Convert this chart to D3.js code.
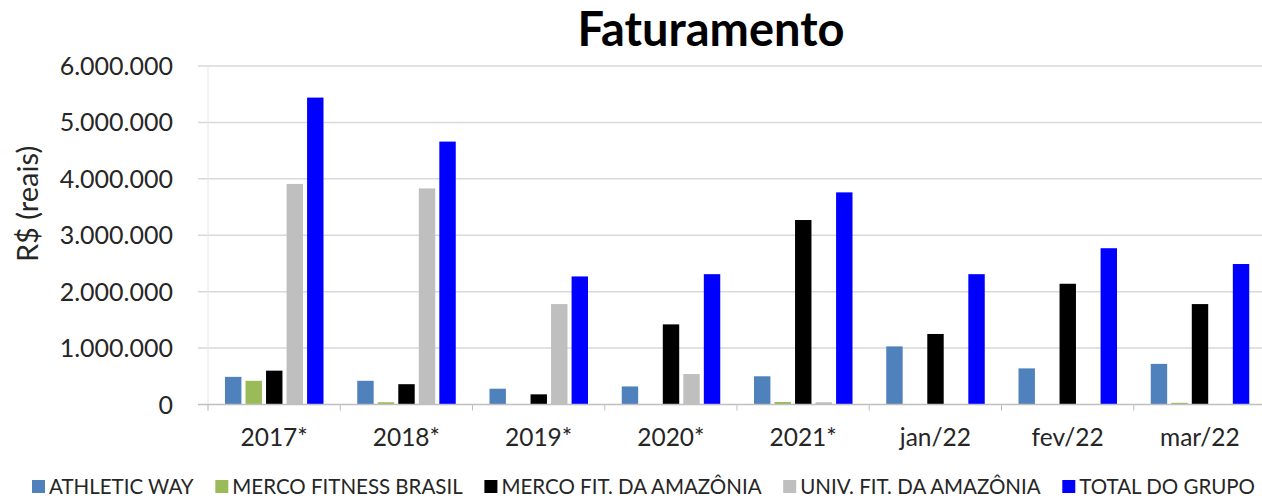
<!DOCTYPE html>
<html>
<head>
<meta charset="utf-8">
<script src="https://cdnjs.cloudflare.com/ajax/libs/d3/7.8.5/d3.min.js"></script>
<style>
	body { margin: 0; background: #fff; }
	svg { display: block; font-family: Lato, "Open Sans", sans-serif; }
</style>
</head>
<body>
<svg id="chart" width="1262" height="499"></svg>
<script>
// Chart data
var categories = ["2017*", "2018*", "2019*", "2020*", "2021*", "jan/22", "fev/22", "mar/22"];
var seriesNames = ["ATHLETIC WAY", "MERCO FITNESS BRASIL", "MERCO FIT. DA AMAZÔNIA", "UNIV. FIT. DA AMAZÔNIA", "TOTAL DO GRUPO"];
var athleticWay = [490000, 420000, 280000, 320000, 500000, 1030000, 640000, 720000];
var mercoFitnessBrasil = [420000, 40000, 0, 0, 45000, 0, 0, 30000];
var mercoFitAmazonia = [600000, 360000, 180000, 1420000, 3270000, 1250000, 2140000, 1780000];
var univFitAmazonia = [3910000, 3830000, 1780000, 540000, 40000, 0, 0, 0];
var totalGrupo = [5440000, 4660000, 2270000, 2310000, 3760000, 2310000, 2770000, 2490000];
var yTicks = [0, 1000000, 2000000, 3000000, 4000000, 5000000, 6000000];

var seriesValues = [athleticWay, mercoFitnessBrasil, mercoFitAmazonia, univFitAmazonia, totalGrupo];
var seriesColors = ["#4f81bd", "#9bbb59", "#000000", "#bfbfbf", "#0000ff"];

// Layout
var svg = d3.select("#chart");
var plot = {left: 208, right: 1266, top: 66, bottom: 404.5};

var ptBR = d3.formatLocale({decimal: ",", thousands: ".", grouping: [3], currency: ["R$", ""]});
var fmt = ptBR.format(",.0f");

// Scales
var x0 = d3.scaleBand()
		.domain(categories)
		.range([plot.left, plot.right]),
	x1 = d3.scaleBand()
		.domain(seriesNames)
		.range([17, 115.5])
		.paddingInner(0.2),
	y = d3.scaleLinear()
		.domain([0, 6000000])
		.range([plot.bottom, plot.top]),
	c = d3.scaleOrdinal()
		.domain(seriesNames)
		.range(seriesColors);

// Gridlines
svg.append("g")
	.selectAll("line")
	.data(yTicks.slice(1))
	.enter()
	.append("line")
	.attr("x1", plot.left - 10)
	.attr("x2", 1262)
	.attr("y1", d => y(d))
	.attr("y2", d => y(d))
	.style("stroke", "#d9d9d9")
	.style("stroke-width", 1.5);

// Faint y axis line
svg.append("line")
	.attr("x1", plot.left)
	.attr("x2", plot.left)
	.attr("y1", plot.top)
	.attr("y2", plot.bottom + 6)
	.style("stroke", "#e6e6e6")
	.style("stroke-width", 1);

// Y tick labels
svg.append("g")
	.selectAll("text")
	.data(yTicks)
	.enter()
	.append("text")
	.attr("x", 173)
	.attr("y", d => y(d))
	.attr("dy", "0.36em")
	.style("text-anchor", "end")
	.style("font-size", "25px")
	.style("fill", "#262626")
	.text(d => fmt(d));

// Y axis title
svg.append("text")
	.attr("transform", "translate(38,204) rotate(-90)")
	.style("text-anchor", "middle")
	.style("font-size", "29px")
	.style("fill", "#262626")
	.text("R$ (reais)");

// Bars
var groups = svg.append("g")
	.selectAll("g")
	.data(categories)
	.enter()
	.append("g")
	.attr("transform", d => "translate(" + x0(d) + ",0)");

groups.selectAll("rect")
	.data((d, i) => seriesNames.map((s, k) => ({name: s, value: seriesValues[k][i]})))
	.enter()
	.append("rect")
	.attr("x", d => x1(d.name))
	.attr("width", x1.bandwidth())
	.attr("y", d => y(d.value))
	.attr("height", d => plot.bottom - y(d.value))
	.style("fill", d => c(d.name));

// X axis baseline and ticks
svg.append("line")
	.attr("x1", plot.left - 10)
	.attr("x2", 1262)
	.attr("y1", plot.bottom)
	.attr("y2", plot.bottom)
	.style("stroke", "#bfbfbf")
	.style("stroke-width", 1.5);

svg.append("g")
	.selectAll("line")
	.data(categories)
	.enter()
	.append("line")
	.attr("x1", d => x0(d))
	.attr("x2", d => x0(d))
	.attr("y1", plot.bottom)
	.attr("y2", plot.bottom + 6)
	.style("stroke", "#bfbfbf")
	.style("stroke-width", 1);

// X tick labels
svg.append("g")
	.selectAll("text")
	.data(categories)
	.enter()
	.append("text")
	.attr("x", d => x0(d) + x0.bandwidth() / 2)
	.attr("y", 446)
	.style("text-anchor", "middle")
	.style("font-size", "24.5px")
	.style("fill", "#262626")
	.text(d => d);

// Title
svg.append("text")
	.attr("x", 711)
	.attr("y", 46)
	.style("text-anchor", "middle")
	.style("font-size", "47px")
	.style("font-weight", "bold")
	.style("fill", "#000")
	.text("Faturamento");

// Legend - laid out in a row from x=32 to x=1255
var legend = svg.append("g");
var items = legend.selectAll("g")
	.data(seriesNames)
	.enter()
	.append("g");

items.append("rect")
	.attr("width", 13)
	.attr("height", 13)
	.attr("y", -14)
	.style("fill", d => c(d));

items.append("text")
	.attr("x", 17)
	.style("font-size", "20.5px")
	.style("fill", "#262626")
	.text(d => d);

var widths = [];
items.select("text").each(function() { widths.push(17 + this.getComputedTextLength()); });
var gap = (1255 - 32 - d3.sum(widths)) / (widths.length - 1);
var pos = 32;
items.attr("transform", (d, i) => {
	let t = "translate(" + pos + ",494)";
	pos += widths[i] + gap;
	return t;
});
</script>
</body>
</html>
